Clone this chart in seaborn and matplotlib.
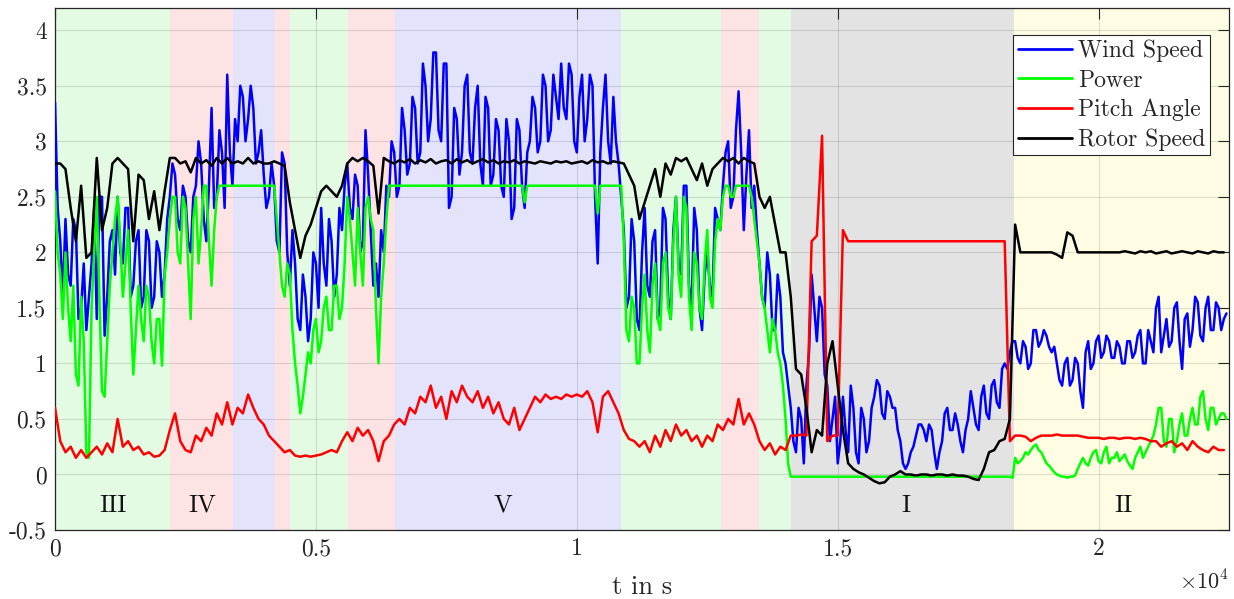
import numpy as np
import pandas as pd
import matplotlib
matplotlib.use("Agg")
import matplotlib.pyplot as plt
import seaborn as sns

# ---------------- data ----------------
time_fast = np.arange(0, 22500, 50)    # sample times of wind speed and power
time_slow = np.arange(0, 22500, 100)   # sample times of pitch angle and rotor speed

wind_speed = [
    3.35, 2.4, 2.1, 1.6, 2.3, 1.8, 1.7, 2.3, 2.2, 1.4,
    1.5, 1.9, 1.3, 1.6, 1.9, 2.4, 1.4, 2.5, 2.5, 1.25,
    1.6, 2.1, 2.2, 1.8, 2.5, 2.0, 1.9, 2.4, 2.4, 1.6,
    1.7, 2.1, 2.2, 1.5, 1.6, 2.2, 2.1, 1.5, 1.6, 2.1,
    2.0, 1.6, 1.8, 2.3, 2.5, 2.8, 2.7, 2.3, 2.2, 2.6,
    2.5, 2.1, 2.0, 2.5, 2.6, 3.0, 2.8, 2.3, 2.1, 2.6,
    3.3, 2.4, 2.5, 3.1, 2.9, 2.4, 3.6, 2.9, 2.6, 3.2,
    3.0, 3.5, 3.4, 3.0, 3.2, 3.5, 3.3, 2.8, 2.9, 3.1,
    2.7, 2.4, 2.5, 2.8, 2.6, 2.1, 2.0, 2.9, 2.8, 2.0,
    1.7, 2.2, 1.9, 1.4, 1.3, 1.8, 1.6, 1.2, 1.4, 2.0,
    1.9, 1.5, 2.4, 1.9, 1.7, 2.3, 2.1, 1.6, 1.8, 2.4,
    2.2, 2.6, 2.8, 2.4, 2.3, 2.7, 2.6, 2.0, 2.1, 3.1,
    2.7, 2.2, 1.7, 1.9, 1.6, 2.2, 2.0, 2.6, 2.5, 3.0,
    2.9, 2.5, 2.6, 3.3, 3.1, 2.7, 2.8, 3.4, 3.3, 2.8,
    2.9, 3.7, 3.5, 3.0, 3.2, 3.8, 3.8, 3.1, 3.0, 3.7,
    3.7, 2.4, 2.5, 3.3, 3.2, 2.7, 2.9, 3.5, 3.6, 2.9,
    2.8, 3.3, 3.5, 2.8, 2.6, 3.4, 3.3, 2.6, 2.7, 3.2,
    3.1, 2.6, 2.5, 3.2, 3.0, 2.3, 2.4, 3.2, 3.1, 2.6,
    2.4, 2.9, 3.0, 3.4, 3.3, 2.9, 3.0, 3.6, 3.5, 3.0,
    3.1, 3.6, 3.4, 3.2, 3.7, 3.3, 3.2, 3.7, 3.6, 3.0,
    2.9, 3.4, 3.6, 3.0, 3.2, 3.6, 3.5, 2.5, 1.9, 2.9,
    3.3, 3.6, 3.0, 2.8, 3.4, 3.0, 2.8, 2.5, 2.2, 1.5,
    1.6, 2.3, 2.1, 1.4, 1.3, 2.0, 2.4, 1.7, 1.6, 2.1,
    2.2, 1.4, 1.5, 2.4, 2.3, 1.6, 1.4, 2.2, 2.5, 1.9,
    1.8, 2.6, 2.6, 1.7, 1.5, 2.4, 2.2, 1.5, 1.3, 1.8,
    2.0, 1.7, 1.6, 2.4, 2.3, 2.2, 2.6, 2.9, 3.0, 2.4,
    2.5, 3.1, 3.45, 2.9, 2.2, 2.7, 3.1, 2.4, 2.6, 2.2,
    1.9, 1.6, 1.5, 2.0, 1.8, 1.3, 1.3, 1.8, 1.6, 1.1,
    1.0, 0.8, 0.6, 0.3, 0.2, 0.6, 0.5, 0.1, 0.8, 1.1,
    1.8, 1.5, 1.2, 1.6, 1.5, 0.9, 0.8, 0.3, 0.5, 0.7,
    0.1, 0.3, 0.7, 0.4, 0.2, 0.8, 0.6, 0.2, 0.1, 0.6,
    0.5, 0.2, 0.3, 0.6, 0.7, 0.85, 0.8, 0.55, 0.5, 0.75,
    0.7, 0.6, 0.6, 0.4, 0.3, 0.1, 0.05, 0.1, 0.2, 0.25,
    0.35, 0.45, 0.45, 0.4, 0.3, 0.45, 0.4, 0.2, 0.05, 0.2,
    0.3, 0.55, 0.6, 0.4, 0.4, 0.55, 0.45, 0.3, 0.2, 0.4,
    0.5, 0.75, 0.6, 0.45, 0.4, 0.7, 0.8, 0.55, 0.5, 0.8,
    0.85, 0.65, 0.6, 0.95, 1.0, 0.95, 1.1, 1.2, 1.2, 1.05,
    1.0, 1.2, 1.15, 0.95, 1.0, 1.3, 1.3, 1.15, 1.2, 1.3,
    1.25, 1.15, 1.1, 1.15, 1.0, 0.85, 0.8, 1.0, 1.05, 0.8,
    0.85, 1.05, 1.0, 0.75, 0.6, 1.1, 1.2, 0.95, 1.0, 1.2,
    1.25, 1.05, 1.1, 1.25, 1.2, 1.05, 1.05, 1.2, 1.15, 1.0,
    1.0, 1.2, 1.2, 1.05, 1.1, 1.25, 1.3, 1.0, 1.0, 1.3,
    1.2, 1.1, 1.5, 1.6, 1.1, 1.25, 1.4, 1.15, 1.2, 1.5,
    1.55, 1.2, 0.95, 1.4, 1.45, 1.15, 1.3, 1.6, 1.55, 1.25,
    1.2, 1.5, 1.6, 1.3, 1.3, 1.55, 1.5, 1.3, 1.4, 1.45,
]

power = [
    2.55, 2.0, 1.8, 1.4, 2.0, 1.5, 1.2, 1.7, 0.9, 0.8,
    1.6, 1.2, 0.2, 0.15, 1.5, 2.0, 2.5, 1.6, 0.75, 0.7,
    1.2, 1.7, 2.0, 2.3, 2.5, 2.1, 1.6, 1.9, 2.2, 1.5,
    0.9, 1.3, 1.7, 1.4, 1.2, 1.7, 1.6, 1.2, 1.0, 1.4,
    1.4, 0.98, 1.8, 2.0, 2.3, 2.5, 2.5, 2.0, 1.9, 2.5,
    2.4, 1.9, 1.4, 2.3, 2.5, 1.9, 2.2, 2.6, 2.6, 2.1,
    1.7, 2.2, 2.5, 2.6, 2.6, 2.6, 2.6, 2.6, 2.6, 2.6,
    2.6, 2.6, 2.6, 2.6, 2.6, 2.6, 2.6, 2.6, 2.6, 2.6,
    2.6, 2.6, 2.6, 2.6, 2.6, 2.3, 2.0, 1.7, 1.6, 1.9,
    1.8, 1.3, 1.0, 0.8, 0.55, 0.7, 0.9, 1.1, 1.0, 1.3,
    1.4, 1.1, 1.2, 1.5, 1.6, 1.3, 1.3, 1.7, 1.7, 1.4,
    1.5, 1.9, 2.5, 2.3, 2.0, 1.7, 2.4, 2.0, 1.7, 2.4,
    2.5, 2.3, 2.2, 1.5, 1.0, 1.6, 1.9, 2.3, 2.6, 2.6,
    2.6, 2.6, 2.6, 2.6, 2.6, 2.6, 2.6, 2.6, 2.6, 2.6,
    2.6, 2.6, 2.6, 2.6, 2.6, 2.6, 2.6, 2.6, 2.6, 2.6,
    2.6, 2.6, 2.6, 2.6, 2.6, 2.6, 2.6, 2.6, 2.6, 2.6,
    2.6, 2.6, 2.6, 2.6, 2.6, 2.6, 2.6, 2.6, 2.6, 2.6,
    2.6, 2.6, 2.6, 2.6, 2.6, 2.6, 2.6, 2.6, 2.6, 2.6,
    2.45, 2.6, 2.6, 2.6, 2.6, 2.6, 2.6, 2.6, 2.6, 2.6,
    2.6, 2.6, 2.6, 2.6, 2.6, 2.6, 2.6, 2.6, 2.6, 2.6,
    2.6, 2.6, 2.6, 2.6, 2.6, 2.6, 2.6, 2.6, 2.35, 2.6,
    2.6, 2.6, 2.6, 2.6, 2.6, 2.6, 2.6, 2.6, 2.1, 1.3,
    1.2, 1.6, 1.5, 1.0, 1.0, 1.5, 1.8, 1.3, 1.1, 1.7,
    1.9, 1.4, 1.3, 1.9, 2.0, 1.5, 1.4, 2.1, 2.5, 1.8,
    1.6, 2.5, 2.4, 1.6, 1.3, 2.0, 1.9, 1.5, 1.4, 1.9,
    2.2, 1.6, 1.5, 2.1, 2.3, 2.2, 2.5, 2.6, 2.6, 2.5,
    2.5, 2.6, 2.6, 2.6, 2.6, 2.6, 2.6, 2.5, 2.3, 2.1,
    1.9, 1.6, 1.5, 1.3, 1.1, 1.4, 1.3, 1.1, 1.0, 0.8,
    0.5, 0.1, -0.02, -0.02, -0.02, -0.02, -0.02, -0.02, -0.02, -0.02,
    -0.02, -0.02, -0.02, -0.02, -0.02, -0.02, -0.02, -0.02, -0.02, -0.02,
    -0.02, -0.02, -0.02, -0.02, -0.02, -0.02, -0.02, -0.02, -0.02, -0.02,
    -0.02, -0.02, -0.02, -0.02, -0.02, -0.02, -0.02, -0.02, -0.02, -0.02,
    -0.02, -0.02, -0.02, -0.02, -0.02, -0.02, -0.02, -0.02, -0.02, -0.02,
    -0.02, -0.02, -0.02, -0.02, -0.02, -0.02, -0.02, -0.02, -0.02, -0.02,
    -0.02, -0.02, -0.02, -0.02, -0.02, -0.02, -0.02, -0.02, -0.02, -0.02,
    -0.02, -0.02, -0.02, -0.02, -0.02, -0.02, -0.02, -0.02, -0.02, -0.02,
    -0.02, -0.02, -0.02, -0.02, -0.02, -0.02, -0.02, -0.03, 0.15, 0.1,
    0.12, 0.15, 0.2, 0.18, 0.22, 0.25, 0.27, 0.22, 0.2, 0.15,
    0.1, 0.08, 0.05, 0.02, 0.0, -0.01, -0.02, -0.02, -0.03, -0.02,
    -0.02, -0.01, 0.05, 0.1, 0.15, 0.1, 0.08, 0.15, 0.2, 0.22,
    0.12, 0.1, 0.2, 0.25, 0.1, 0.15, 0.15, 0.2, 0.12, 0.15,
    0.18, 0.12, 0.08, 0.05, 0.15, 0.2, 0.25, 0.15, 0.2, 0.25,
    0.3, 0.35, 0.45, 0.6, 0.6, 0.3, 0.25, 0.5, 0.5, 0.2,
    0.3, 0.45, 0.55, 0.35, 0.35, 0.5, 0.6, 0.45, 0.45, 0.7,
    0.75, 0.5, 0.4, 0.6, 0.6, 0.45, 0.5, 0.55, 0.55, 0.5,
]

pitch_angle = [
    0.6, 0.3, 0.2, 0.25, 0.15, 0.22, 0.15, 0.2, 0.25, 0.18,
    0.28, 0.2, 0.5, 0.25, 0.3, 0.22, 0.25, 0.18, 0.2, 0.16,
    0.17, 0.22, 0.4, 0.55, 0.3, 0.22, 0.2, 0.35, 0.3, 0.42,
    0.35, 0.55, 0.45, 0.65, 0.45, 0.6, 0.55, 0.72, 0.6, 0.5,
    0.45, 0.35, 0.3, 0.25, 0.2, 0.22, 0.17, 0.16, 0.17, 0.16,
    0.17, 0.18, 0.2, 0.22, 0.2, 0.3, 0.38, 0.3, 0.42, 0.35,
    0.4, 0.3, 0.12, 0.3, 0.35, 0.45, 0.5, 0.45, 0.6, 0.55,
    0.7, 0.65, 0.8, 0.6, 0.7, 0.5, 0.75, 0.65, 0.8, 0.7,
    0.65, 0.75, 0.6, 0.7, 0.55, 0.65, 0.5, 0.45, 0.6, 0.4,
    0.5, 0.6, 0.7, 0.65, 0.72, 0.68, 0.7, 0.68, 0.72, 0.7,
    0.72, 0.7, 0.75, 0.65, 0.38, 0.7, 0.75, 0.65, 0.55, 0.4,
    0.32, 0.3, 0.25, 0.3, 0.2, 0.35, 0.25, 0.4, 0.3, 0.45,
    0.35, 0.4, 0.3, 0.35, 0.25, 0.35, 0.3, 0.45, 0.4, 0.5,
    0.45, 0.68, 0.45, 0.55, 0.45, 0.3, 0.22, 0.28, 0.18, 0.25,
    0.22, 0.35, 0.35, 0.36, 0.35, 2.1, 2.15, 3.05, 0.3, 0.35,
    0.35, 2.2, 2.1, 2.1, 2.1, 2.1, 2.1, 2.1, 2.1, 2.1,
    2.1, 2.1, 2.1, 2.1, 2.1, 2.1, 2.1, 2.1, 2.1, 2.1,
    2.1, 2.1, 2.1, 2.1, 2.1, 2.1, 2.1, 2.1, 2.1, 2.1,
    2.1, 2.1, 2.1, 0.3, 0.35, 0.35, 0.34, 0.3, 0.33, 0.35,
    0.35, 0.35, 0.36, 0.35, 0.35, 0.35, 0.35, 0.34, 0.33, 0.33,
    0.33, 0.32, 0.33, 0.33, 0.32, 0.33, 0.33, 0.32, 0.33, 0.32,
    0.3, 0.3, 0.25, 0.28, 0.3, 0.25, 0.28, 0.22, 0.3, 0.25,
    0.22, 0.2, 0.25, 0.22, 0.22,
]

rotor_speed = [
    2.8, 2.8, 2.75, 2.4, 2.1, 2.6, 1.95, 2.0, 2.85, 2.2,
    2.4, 2.8, 2.85, 2.8, 2.75, 2.1, 2.7, 2.65, 2.3, 2.55,
    2.2, 2.55, 2.85, 2.85, 2.8, 2.82, 2.72, 2.85, 2.8, 2.83,
    2.78, 2.85, 2.8, 2.85, 2.8, 2.82, 2.8, 2.85, 2.8, 2.82,
    2.8, 2.8, 2.82, 2.8, 2.78, 2.45, 2.2, 1.95, 2.15, 2.25,
    2.4, 2.55, 2.6, 2.55, 2.5, 2.6, 2.8, 2.85, 2.82, 2.85,
    2.82, 2.78, 2.35, 2.85, 2.82, 2.8, 2.83, 2.81, 2.84, 2.8,
    2.83, 2.81, 2.84, 2.8, 2.82, 2.83, 2.8, 2.84, 2.81, 2.83,
    2.8, 2.82, 2.84, 2.81, 2.83, 2.8, 2.82, 2.81, 2.83, 2.8,
    2.82, 2.81, 2.8, 2.82, 2.81, 2.8, 2.82, 2.81, 2.82, 2.8,
    2.81, 2.82, 2.8, 2.83, 2.81, 2.82, 2.8, 2.82, 2.81, 2.8,
    2.7, 2.6, 2.3, 2.45, 2.6, 2.75, 2.5, 2.8, 2.7, 2.85,
    2.82, 2.85, 2.75, 2.65, 2.8, 2.6, 2.75, 2.8, 2.85, 2.82,
    2.85, 2.8, 2.85, 2.82, 2.8, 2.5, 2.4, 2.5, 2.25, 2.0,
    2.0, 1.6, 0.95, 0.9, 0.6, 0.2, 0.4, 0.35, 1.0, 1.2,
    0.8, 0.4, 0.1, 0.05, 0.02, 0.0, -0.03, -0.06, -0.08, -0.07,
    -0.02, 0.0, 0.03, 0.0, 0.0, -0.01, 0.0, 0.0, -0.01, 0.0,
    0.0, -0.01, 0.0, -0.01, -0.01, -0.02, -0.04, -0.05, 0.05, 0.2,
    0.22, 0.3, 0.32, 0.5, 2.25, 2.0, 2.0, 2.0, 2.0, 2.0,
    2.0, 2.0, 1.98, 1.95, 2.18, 2.15, 2.0, 2.0, 2.0, 2.0,
    2.0, 2.0, 2.0, 2.0, 2.0, 2.01, 2.0, 1.99, 2.01, 2.0,
    2.01, 1.99, 2.0, 2.01, 1.99, 2.0, 2.01, 2.0, 1.99, 2.01,
    2.0, 1.99, 2.01, 2.0, 2.0,
]

series_names = ["Wind Speed", "Power", "Pitch Angle", "Rotor Speed"]
series_colors = ["#0000FF", "#00FF00", "#FF0000", "#000000"]

# operating regions
region_start = [0, 2211, 3411, 4217, 4507, 5612, 6514, 10846, 12754, 13490, 14097, 18380]
region_end = [2211, 3411, 4217, 4507, 5612, 6514, 10846, 12754, 13490, 14097, 18380, 22500]
region_kind = ["III", "IV", "V", "IV", "III", "IV", "V", "III", "IV", "III", "I", "II"]
region_colors = {"I": "#E3E3E3", "II": "#FEFDE3", "III": "#E3FAE3", "IV": "#FDE3E3", "V": "#E3E3FC"}
label_text = ["III", "IV", "V", "I", "II"]
label_t = [1107, 2829, 8585, 16303, 20470]
label_y = -0.28

x_ticks = [0, 5000, 10000, 15000, 20000]
x_ticklabels = ["0", "0.5", "1", "1.5", "2"]
y_ticks = [-0.5, 0, 0.5, 1, 1.5, 2, 2.5, 3, 3.5, 4]
y_ticklabels = ["-0.5", "0", "0.5", "1", "1.5", "2", "2.5", "3", "3.5", "4"]

# ---------------- plot ----------------
sns.set_theme(style="white")
plt.rcParams["font.family"] = ["cmr10", "DejaVu Serif"]
plt.rcParams["mathtext.fontset"] = "cm"
plt.rcParams["axes.unicode_minus"] = False
plt.rcParams["axes.formatter.use_mathtext"] = True

df = pd.concat([
    pd.DataFrame({"t": tt, "value": vals, "series": name})
    for name, tt, vals in zip(series_names,
                              [time_fast, time_fast, time_slow, time_slow],
                              [wind_speed, power, pitch_angle, rotor_speed])
], ignore_index=True)

fig = plt.figure(figsize=(12.34, 5.99), dpi=100)
ax = fig.add_axes([0.0446, 0.1152, 0.9514, 0.8714])

for s, e, k in zip(region_start, region_end, region_kind):
    ax.axvspan(s, e, color=region_colors[k], lw=0, zorder=0.5)

sns.lineplot(data=df, x="t", y="value", hue="series", hue_order=series_names,
             palette=series_colors, estimator=None, sort=False, lw=1.8, ax=ax,
             zorder=3)

for txt, tx in zip(label_text, label_t):
    ax.text(tx, label_y, txt, ha="center", va="center", fontsize=18, color="#111111")

ax.set_xlim(0, 22500)
ax.set_ylim(-0.5, 4.2)
ax.set_xticks(x_ticks)
ax.set_xticklabels(x_ticklabels)
ax.set_yticks(y_ticks)
ax.set_yticklabels(y_ticklabels)
ax.tick_params(direction="in", length=8, width=0.8, top=True, right=True,
               labelsize=17, colors="#262626", pad=6)
ax.set_axisbelow("line")
ax.grid(True, color="#000000", alpha=0.12, lw=0.8)
for sp in ax.spines.values():
    sp.set_color("#262626")
    sp.set_linewidth(0.9)

ax.set_xlabel("t in s", fontsize=19, color="#262626", labelpad=11)
ax.set_ylabel("")
ax.text(1.0, -0.098, r"$\times10^{4}$", transform=ax.transAxes, ha="right",
        va="center", fontsize=16, color="#262626")

leg = ax.legend(loc="upper right", bbox_to_anchor=(0.984, 0.948), borderaxespad=0,
                fancybox=False, framealpha=1, edgecolor="#262626", fontsize=17,
                handlelength=2.3, labelspacing=0.3, borderpad=0.2, handletextpad=0.25)
leg.get_frame().set_linewidth(0.8)
for line in leg.get_lines():
    line.set_linewidth(2.0)

fig.savefig("out.png", dpi=100)
